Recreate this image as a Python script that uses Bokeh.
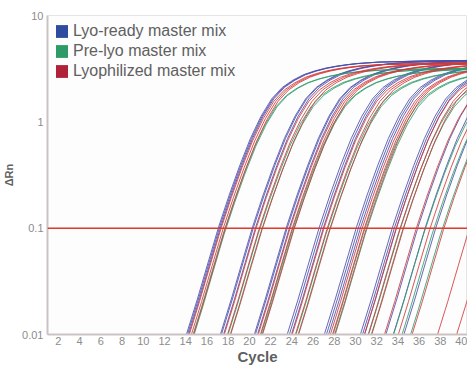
from bokeh.plotting import figure
from bokeh.models import Range1d, FixedTicker, Span, Legend, LegendItem, CustomJSTickFormatter
from bokeh.embed import file_html
from bokeh.resources import INLINE

# ---- data ----
series_names = ["Lyo-ready master mix", "Pre-lyo master mix", "Lyophilized master mix"]
legend_colors = ["#2f4b9e", "#2e9a67", "#b0223a"]
line_colors = ["#4b4dac", "#2f9e6e", "#d23a3a"]

# threshold-crossing cycles (ΔRn = 0.1) of each replicate curve
ct_lyo_ready = [17.1, 17.2, 17.3, 20.3, 20.4, 20.6, 23.5, 23.6, 23.8, 26.6, 26.8, 27.0,
                30.1, 30.3, 30.5, 33.5, 33.7, 33.9, 35.9, 36.6, 37.6]
ct_pre_lyo = [17.5, 17.6, 20.8, 21.0, 23.9, 24.0, 27.2, 27.4, 30.7, 30.9, 34.0, 34.3,
              36.4, 37.2, 38.0]
ct_lyophilized = [17.3, 17.5, 17.7, 20.6, 20.9, 21.2, 23.8, 24.0, 24.2, 27.0, 27.3, 27.6,
                  30.6, 30.8, 31.0, 33.8, 34.2, 34.5, 35.7, 37.0, 38.3, 40.7, 42.5]
plateau = [3.8, 3.2, 3.6]

# shape of one amplification curve (cycles from crossing, ΔRn)
profile_offset = [-8, -6, -5, -4, -3, -2, -1, 0, 1, 2, 3, 4, 5, 6, 7, 8, 9, 10, 11, 12, 13, 15, 20, 26]
profile_drn = [0.0002, 0.001, 0.0022, 0.0047, 0.01, 0.021, 0.046, 0.1, 0.2, 0.38, 0.68, 1.1,
               1.6, 2.05, 2.4, 2.7, 2.92, 3.1, 3.24, 3.35, 3.44, 3.55, 3.65, 3.7]
profile_plateau = 3.7

threshold = 0.1
x_ticks = list(range(2, 41, 2))
y_ticks = [0.01, 0.1, 1, 10]

FONT = "Liberation Sans"

p = figure(width=467, height=367, output_backend="svg", toolbar_location=None,
           y_axis_type="log", x_range=Range1d(0.97, 40.56), y_range=Range1d(0.01, 10),
           min_border_left=44, min_border_right=0, min_border_top=15, min_border_bottom=30)
p.background_fill_color = "#fdfdfd"
p.outline_line_color = "#e8e4e4"
p.xgrid.visible = False
p.ygrid.visible = False

all_cts = [ct_lyo_ready, ct_pre_lyo, ct_lyophilized]
for cts, col, plat in zip(all_cts, line_colors, plateau):
    xs, ys = [], []
    for ct in cts:
        xs.append([ct + o for o in profile_offset])
        ys.append([v * plat / profile_plateau for v in profile_drn])
    p.multi_line(xs=xs, ys=ys, line_color=col, line_width=1.0, line_alpha=0.85)

p.add_layout(Span(location=threshold, dimension="width", line_color="#e0392c", line_width=1.5))

# legend squares (proxy renderers with no visible extent)
nan = float("nan")
items = []
for name, col in zip(series_names, legend_colors):
    r = p.quad(left=[nan], right=[nan], top=[nan], bottom=[nan], fill_color=col, line_color=None)
    items.append(LegendItem(label=name, renderers=[r]))
legend = Legend(items=items, location="top_left", margin=7, padding=7,
                glyph_width=15, glyph_height=16, label_standoff=4, spacing=2,
                label_text_font=FONT, label_text_font_size="16px", label_text_color="#606060",
                border_line_color=None, background_fill_alpha=0)
p.add_layout(legend)

for ax in (p.xaxis[0], p.yaxis[0]):
    ax.axis_line_color = "#cbc3c3"
    ax.axis_line_width = 2
    ax.major_tick_line_color = None
    ax.minor_tick_line_color = None
    ax.major_tick_out = 0
    ax.major_tick_in = 0
    ax.minor_tick_out = 0
    ax.minor_tick_in = 0
    ax.major_label_text_font = FONT
    ax.major_label_text_font_size = "11px"
    ax.major_label_text_color = "#8c8c8c"
    ax.axis_label_text_font = FONT
    ax.axis_label_text_font_style = "bold"
    ax.axis_label_text_color = "#5f5f5f"

p.xaxis.ticker = FixedTicker(ticks=x_ticks)
p.xaxis.axis_label = "Cycle"
p.xaxis.axis_label_text_font_size = "15px"
p.xaxis.major_label_standoff = 2
p.xaxis.axis_label_standoff = 0

p.yaxis.ticker = FixedTicker(ticks=y_ticks)
p.yaxis.formatter = CustomJSTickFormatter(code="return Number(tick.toPrecision(3)).toString();")
p.yaxis.axis_label = "ΔRn"
p.yaxis.axis_label_text_font_size = "11px"
p.yaxis.major_label_standoff = 4
p.yaxis.axis_label_standoff = 4

open("out.html", "w").write(file_html(p, INLINE))
